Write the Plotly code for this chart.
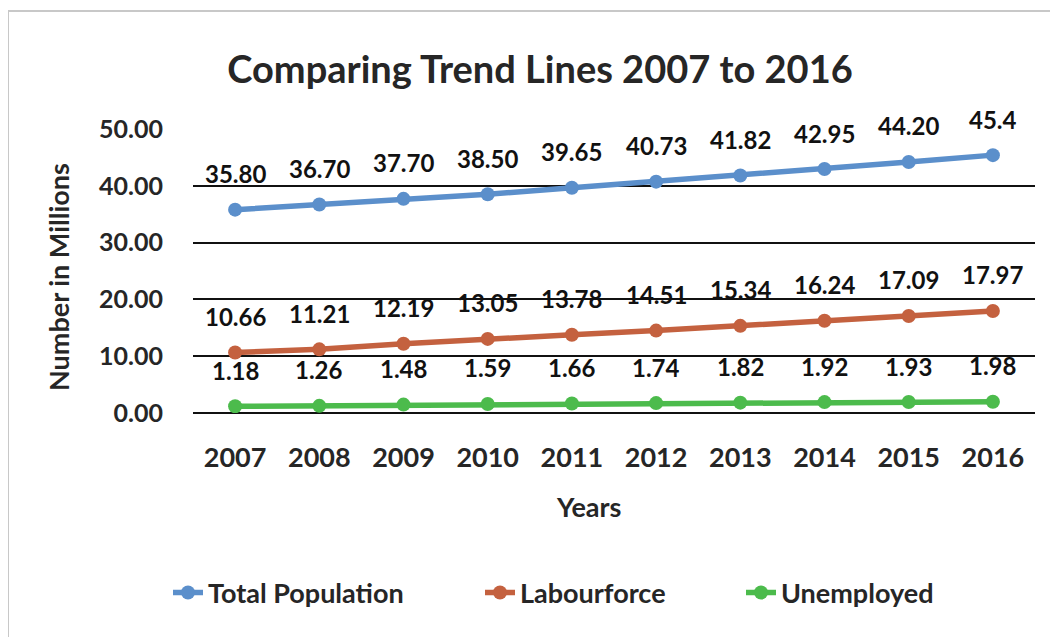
import plotly.graph_objects as go

years = ["2007", "2008", "2009", "2010", "2011", "2012", "2013", "2014", "2015", "2016"]
total_population = [35.80, 36.70, 37.70, 38.50, 39.65, 40.73, 41.82, 42.95, 44.20, 45.4]
labourforce = [10.66, 11.21, 12.19, 13.05, 13.78, 14.51, 15.34, 16.24, 17.09, 17.97]
unemployed = [1.18, 1.26, 1.48, 1.59, 1.66, 1.74, 1.82, 1.92, 1.93, 1.98]
total_labels = ["35.80", "36.70", "37.70", "38.50", "39.65", "40.73", "41.82", "42.95", "44.20", "45.4"]

FONT = "Lato"
INK = "#262626"
# name, values, label strings, colour, legend id, legend left edge (page px)
series = [
    ("Total Population", total_population, total_labels, "#5b8fcb", "legend", 168),
    ("Labourforce", labourforce, ["%.2f" % v for v in labourforce], "#c4613f", "legend2", 480),
    ("Unemployed", unemployed, ["%.2f" % v for v in unemployed], "#4cbb4c", "legend3", 741),
]

# page has an 8px body margin, so plot area is placed with that in mind
# target plot area on the page: x 193..1035, y 129..413
fig = go.Figure()
annotations = []
legends = {}
for name, vals, labels, color, leg, leg_x in series:
    fig.add_trace(
        go.Scatter(
            x=years, y=vals, name=name, mode="lines+markers",
            line=dict(color=color, width=5.5),
            marker=dict(color=color, size=14),
            legend=leg,
        )
    )
    legends[leg] = dict(
        orientation="h", x=(leg_x - 193) / 842, y=(413 - 593) / 284,
        xanchor="left", yanchor="middle", bgcolor="rgba(0,0,0,0)",
        font=dict(family=FONT, size=27, color=INK, weight="bold"),
    )
    # category axis: annotations go by category index
    for i, (v, lab) in enumerate(zip(vals, labels)):
        annotations.append(dict(
            x=i, y=v, text=lab, showarrow=False, yshift=36,
            font=dict(family=FONT, size=24, color="#111111", weight="bold"),
        ))

annotations.append(dict(
    text="Years", xref="paper", yref="paper", x=(588 - 193) / 842, y=(413 - 506) / 284,
    xanchor="center", yanchor="middle", showarrow=False,
    font=dict(family=FONT, size=27, color=INK, weight="bold"),
))
annotations.append(dict(
    text="Number in Millions", xref="paper", yref="paper", x=(58 - 193) / 842, y=(413 - 277) / 284,
    xanchor="center", yanchor="middle", showarrow=False, textangle=-90,
    font=dict(family=FONT, size=27, color=INK, weight="bold"),
))

fig.update_layout(
    width=1058,
    height=637,
    autosize=False,
    margin=dict(l=185, r=31, t=121, b=232),
    paper_bgcolor="white",
    plot_bgcolor="white",
    showlegend=True,
    title=dict(
        text="Comparing Trend Lines 2007 to 2016",
        x=(540 - 8) / 1058, xref="container", xanchor="center",
        y=1 - (70 - 8) / 637, yref="container", yanchor="middle",
        font=dict(family=FONT, size=38, color=INK, weight="bold"),
    ),
    xaxis=dict(
        type="category", range=[-0.5, len(years) - 0.5],
        showgrid=False, showline=False, zeroline=False,
        ticks="", ticklabelstandoff=26,
        tickfont=dict(family=FONT, size=27, color=INK, weight="bold"),
    ),
    yaxis=dict(
        range=[0, 50], dtick=10, tickformat=".2f",
        showgrid=True, gridcolor="#111111", gridwidth=1.5,
        zeroline=True, zerolinecolor="#111111", zerolinewidth=1.5,
        showline=False, ticks="", ticklabelstandoff=29,
        tickfont=dict(family=FONT, size=25, color=INK, weight="bold"),
    ),
    annotations=annotations,
    shapes=[
        dict(type="line", xref="paper", yref="paper",
             x0=(8 - 193) / 842, x1=(1066 - 193) / 842, y0=(413 - 11) / 284, y1=(413 - 11) / 284,
             line=dict(color="#c8c8c8", width=2)),
        dict(type="line", xref="paper", yref="paper",
             x0=(8 - 193) / 842, x1=(8 - 193) / 842, y0=(413 - 11) / 284, y1=(413 - 645) / 284,
             line=dict(color="#c8c8c8", width=2)),
    ],
    **legends,
)

fig.write_html("out.html")
